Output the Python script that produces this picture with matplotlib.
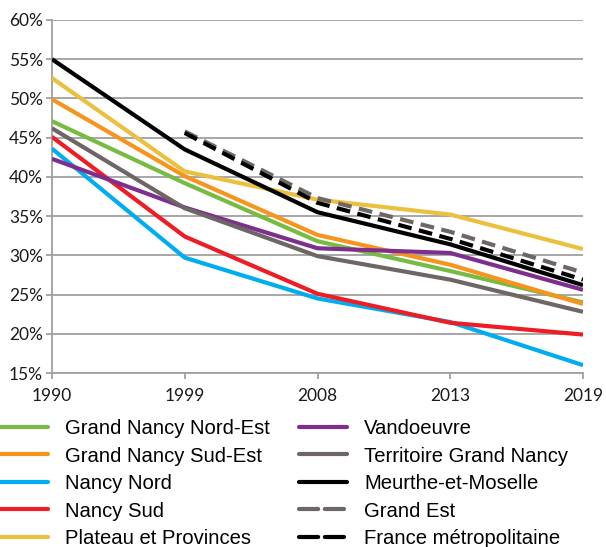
import matplotlib
matplotlib.use("Agg")
import matplotlib.pyplot as plt
from matplotlib.ticker import FuncFormatter
from matplotlib.lines import Line2D

years = ["1990", "1999", "2008", "2013", "2019"]

grand_nancy_nord_est = [47.1, 39.2, 31.8, 28.0, 24.0]
grand_nancy_sud_est = [49.9, 40.1, 32.6, 28.8, 23.8]
nancy_nord = [43.6, 29.7, 24.5, 21.5, 16.0]
nancy_sud = [45.1, 32.4, 25.1, 21.4, 19.9]
plateau_provinces = [52.6, 40.7, 37.1, 35.2, 30.8]
vandoeuvre = [42.3, 36.1, 30.9, 30.3, 25.6]
territoire_grand_nancy = [46.2, 36.0, 29.9, 26.9, 22.8]
meurthe_et_moselle = [55.0, 43.5, 35.5, 31.4, 26.2]
grand_est = [None, 45.8, 37.3, 33.0, 27.8]
france_metro = [None, 45.6, 36.7, 32.1, 26.9]

series = [
    ("Grand Nancy Nord-Est", grand_nancy_nord_est, "#77BB44", "-"),
    ("Grand Nancy Sud-Est", grand_nancy_sud_est, "#F7941D", "-"),
    ("Nancy Nord", nancy_nord, "#00AEEF", "-"),
    ("Nancy Sud", nancy_sud, "#EE1C25", "-"),
    ("Plateau et Provinces", plateau_provinces, "#EBC03F", "-"),
    ("Vandoeuvre", vandoeuvre, "#7E2F8E", "-"),
    ("Territoire Grand Nancy", territoire_grand_nancy, "#6D6664", "-"),
    ("Meurthe-et-Moselle", meurthe_et_moselle, "#000000", "-"),
    ("Grand Est", grand_est, "#6D6664", "--"),
    ("France métropolitaine", france_metro, "#000000", "--"),
]

fig = plt.figure(figsize=(6.06, 5.47), dpi=100)
ax = fig.add_axes([52/606, (547-373)/547, (583-52)/606, (373-20)/547])

x = list(range(len(years)))
handles = []
for name, vals, color, ls in series:
    xs = [xi for xi, v in zip(x, vals) if v is not None]
    ys = [v/100 for v in vals if v is not None]
    if ls == "--":
        ax.plot(xs, ys, color=color, lw=3, dashes=(3.3, 1.8),
                dash_capstyle="butt", zorder=3)
        h = Line2D([], [], color=color, lw=3, dashes=(4.6, 1.6),
                   dash_capstyle="round")
    else:
        ax.plot(xs, ys, color=color, lw=3,
                solid_capstyle="butt", solid_joinstyle="round", zorder=3)
        h = Line2D([], [], color=color, lw=3, solid_capstyle="round")
    handles.append(h)

ax.set_xlim(0, 4)
ax.set_ylim(0.15, 0.60)
ax.set_xticks(x)
ax.set_xticklabels(years)
ax.set_yticks([0.15 + 0.05*i for i in range(10)])
ax.yaxis.set_major_formatter(FuncFormatter(lambda v, p: f"{round(v*100)}%"))
ax.grid(axis="y", color="#A0A0A0", lw=1.3, zorder=0)
ax.set_axisbelow(True)
for s in ["top", "right"]:
    ax.spines[s].set_visible(False)
for s in ["left", "bottom"]:
    ax.spines[s].set_color("#A0A0A0")
    ax.spines[s].set_linewidth(1.3)
ax.tick_params(axis="both", colors="#A0A0A0", length=4, width=1.3,
               labelcolor="#1a1a1a", labelsize=12.5)
ax.tick_params(axis="y", pad=2.5)
ax.tick_params(axis="x", pad=7)
for lab in ax.get_xticklabels() + ax.get_yticklabels():
    lab.set_family("Lato")

leg = fig.legend(handles=handles, labels=[s[0] for s in series], ncol=2,
                 loc="upper left", bbox_to_anchor=(0.0, 1 - 419/547),
                 frameon=False, borderaxespad=0, borderpad=0,
                 handlelength=2.35, handletextpad=0.85, columnspacing=1.45,
                 labelspacing=0.42, prop={"family": "Liberation Sans", "size": 14.6})

fig.savefig("out.png", dpi=100)
